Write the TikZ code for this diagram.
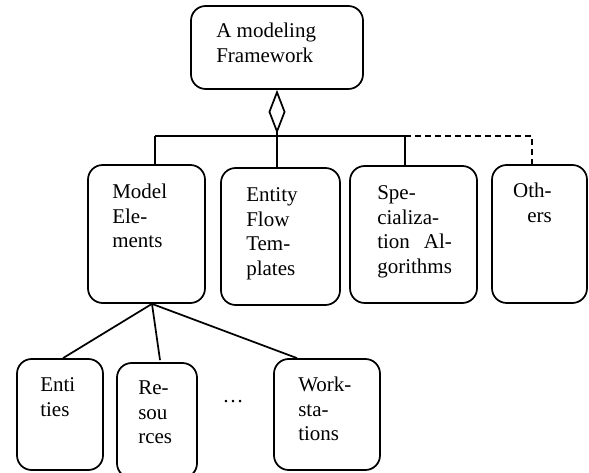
\documentclass[tikz,border=0pt]{standalone}
\usepackage{fontspec}
\usepackage{calc}
\setmainfont{Liberation Serif}
\usetikzlibrary{arrows.meta}
\begin{document}
\begin{tikzpicture}[x=0.75pt,y=-0.75pt,
  box/.style={draw,line width=1.3pt,rounded corners=11pt,inner sep=0pt},
  conn/.style={line width=1.3pt},
  txt/.style={anchor=base west,inner sep=0pt,align=left,font=\fontsize{15.75pt}{18.4pt}\selectfont},
]
\useasboundingbox (0,0) rectangle (589,473);
% boxes
\node[box,minimum width=129pt,minimum height=62.25pt] (top) at (277,47.5) {};
\node[box,minimum width=87.75pt,minimum height=103.5pt] (me) at (146.5,234) {};
\node[box,minimum width=89.25pt,minimum height=102.75pt] (ef) at (280.5,236.5) {};
\node[box,minimum width=95.25pt,minimum height=102.75pt] (sp) at (413.5,234.5) {};
\node[box,minimum width=71.25pt,minimum height=103.5pt] (ot) at (539.5,234) {};
\node[box,minimum width=64.5pt,minimum height=83.25pt] (en) at (60,414.5) {};
\node[box,minimum width=60pt,minimum height=86.25pt] (rs) at (157,420.5) {};
\node[box,minimum width=79.5pt,minimum height=83.25pt] (ws) at (327,414.5) {};
% texts (anchored at the baseline of the last line)
\node[txt] (ttop) at (216,62.5) {A modeling\\Framework};
\node[txt] (tme) at (112,248) {Model\\Ele-\\ments};
\node[txt] (tef) at (246,275.5) {Entity\\Flow\\Tem-\\plates};
\node[txt] (tsp) at (377,273.5) {Spe-\\cializa-\\\makebox[\widthof{gorithms}][s]{tion Al-}\\gorithms};
\node[txt,align=right,anchor=base east] (tot) at (552,222.5) {Oth-\\ers};
\node[txt] (ten) at (40,416.5) {Enti\\ties};
\node[txt] (trs) at (138,444) {Re-\\sou\\rces};
\node[txt] (tws) at (298,441) {Work-\\sta-\\tions};
\node[txt,anchor=base] (dots) at (233,403) {…};
% bus
\coordinate (b1) at (155,136);
\coordinate (b3) at (405,136);
\coordinate (b4) at (532,136);
\draw[conn,{Diamond[open,length=33pt,width=12.75pt]}-] (top.south) -- (top.south |- ef.north);
\draw[conn] (b1) -- (b3);
\draw[conn] (b1) -- (b1 |- me.north);
\draw[conn] (b3) -- (b3 |- sp.north);
\draw[conn,dash pattern=on 4.5pt off 3pt] (b3) -- (b4) -- (b4 |- ot.north);
% lower connectors
\coordinate (mb) at ([xshift=4.1pt]me.south);
\draw[conn] (mb) -- ([xshift=2.25pt]en.north);
\draw[conn] (mb) -- ([xshift=2.25pt,yshift=1.5pt]rs.north);
\draw[conn] (mb) -- ([xshift=-22.5pt]ws.north);
\end{tikzpicture}
\end{document}
